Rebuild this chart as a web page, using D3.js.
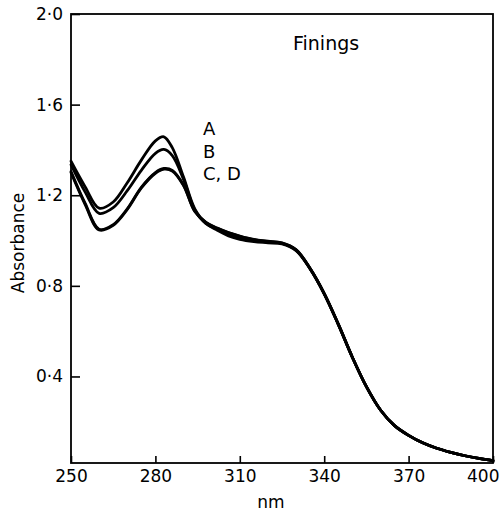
<!DOCTYPE html>
<html>
<head>
<meta charset="utf-8">
<script src="https://cdn.jsdelivr.net/npm/d3@7"></script>
<style>
  html, body { margin: 0; padding: 0; background: #fff; }
  svg { display: block; }
  text { font-family: "DejaVu Sans", sans-serif; fill: #000; }
</style>
</head>
<body>
<svg id="chart" width="502" height="511"></svg>
<script>
// Wavelengths (nm)
const wavelengths = [250,255,260,265,270,275,280,283,286,290,294,298,302,306,310,315,320,325,330,335,340,345,350,355,360,365,370,375,380,385,390,395,400];
// Absorbance series
const seriesA = [1.350,1.238,1.143,1.170,1.255,1.355,1.440,1.458,1.410,1.280,1.140,1.075,1.045,1.020,1.005,0.995,0.990,0.985,0.955,0.875,0.765,0.630,0.485,0.355,0.252,0.183,0.140,0.107,0.083,0.065,0.050,0.038,0.028];
const seriesB = [1.335,1.215,1.120,1.145,1.220,1.310,1.385,1.402,1.375,1.270,1.135,1.075,1.050,1.028,1.012,1.000,0.993,0.987,0.958,0.875,0.765,0.630,0.485,0.355,0.252,0.183,0.140,0.107,0.083,0.065,0.050,0.038,0.028];
const seriesC = [1.305,1.165,1.050,1.070,1.140,1.235,1.300,1.318,1.310,1.245,1.130,1.080,1.055,1.035,1.020,1.005,0.997,0.990,0.960,0.877,0.767,0.632,0.485,0.355,0.252,0.183,0.140,0.107,0.083,0.065,0.050,0.038,0.028];
const seriesD = [1.300,1.160,1.047,1.067,1.137,1.232,1.297,1.315,1.307,1.243,1.128,1.079,1.054,1.034,1.019,1.004,0.996,0.989,0.959,0.876,0.766,0.631,0.485,0.355,0.252,0.183,0.140,0.107,0.083,0.065,0.050,0.038,0.028];
const seriesNames = ["A", "B", "C, D"];
const xTicks = [250,280,310,340,370,400];
const yTicks = [0.4,0.8,1.2,1.6,2.0];
const title = "Finings";

const svg = d3.select("#chart");
const mL = 71, mR = 493, mT = 14, mB = 463;

const x = d3.scaleLinear().domain([250, 400]).range([mL, mR]);
const y = d3.scaleLinear().domain([0.018, 2.0]).range([mB, mT]);

// frame
svg.append("rect")
  .attr("x", mL).attr("y", mT)
  .attr("width", mR - mL).attr("height", mB - mT)
  .attr("fill", "none").attr("stroke", "#000").attr("stroke-width", 1.8);

// x axis (ticks inward)
const xAxis = d3.axisBottom(x).tickValues(xTicks).tickSizeInner(-7).tickSizeOuter(0).tickPadding(7).tickFormat(d3.format("d"));
const gx = svg.append("g").attr("transform", `translate(0,${mB})`).call(xAxis);
gx.select(".domain").remove();
gx.selectAll(".tick line").attr("stroke", "#000").attr("stroke-width", 1.6);
gx.selectAll(".tick text").attr("font-size", 17).attr("font-family", "DejaVu Sans").attr("dy", "0.71em");
gx.selectAll(".tick text").filter(d => d === 400).attr("text-anchor", "end").attr("x", 6);

// y axis (ticks inward)
const yFmt = d => d.toFixed(1).replace(".", "\u00B7");
const yAxis = d3.axisLeft(y).tickValues(yTicks).tickSizeInner(-9).tickSizeOuter(0).tickPadding(8).tickFormat(yFmt);
const gy = svg.append("g").attr("transform", `translate(${mL},0)`).call(yAxis);
gy.select(".domain").remove();
gy.selectAll(".tick line").attr("stroke", "#000").attr("stroke-width", 1.6);
gy.selectAll(".tick text").attr("font-size", 17).attr("font-family", "DejaVu Sans");

// axis labels
svg.append("text").attr("x", 271).attr("y", 508).attr("text-anchor", "middle").attr("font-size", 17).text("nm");
svg.append("text").attr("transform", "translate(24,243) rotate(-90)").attr("text-anchor", "middle").attr("font-size", 17).text("Absorbance");

// title
svg.append("text").attr("x", 293).attr("y", 50).attr("font-size", 19).text(title);

// curves
const line = d3.line().x((d, i) => x(wavelengths[i])).y(d => y(d)).curve(d3.curveCatmullRom.alpha(0.5));
[seriesA, seriesB, seriesC, seriesD].forEach(s => {
  svg.append("path").datum(s).attr("d", line)
    .attr("fill", "none").attr("stroke", "#000").attr("stroke-width", 2.8)
    .attr("stroke-linejoin", "round").attr("stroke-linecap", "round");
});

// series labels
const labY = [135, 158, 180];
seriesNames.forEach((n, i) => {
  svg.append("text").attr("x", 203).attr("y", labY[i]).attr("font-size", 18).text(n);
});
</script>
</body>
</html>
